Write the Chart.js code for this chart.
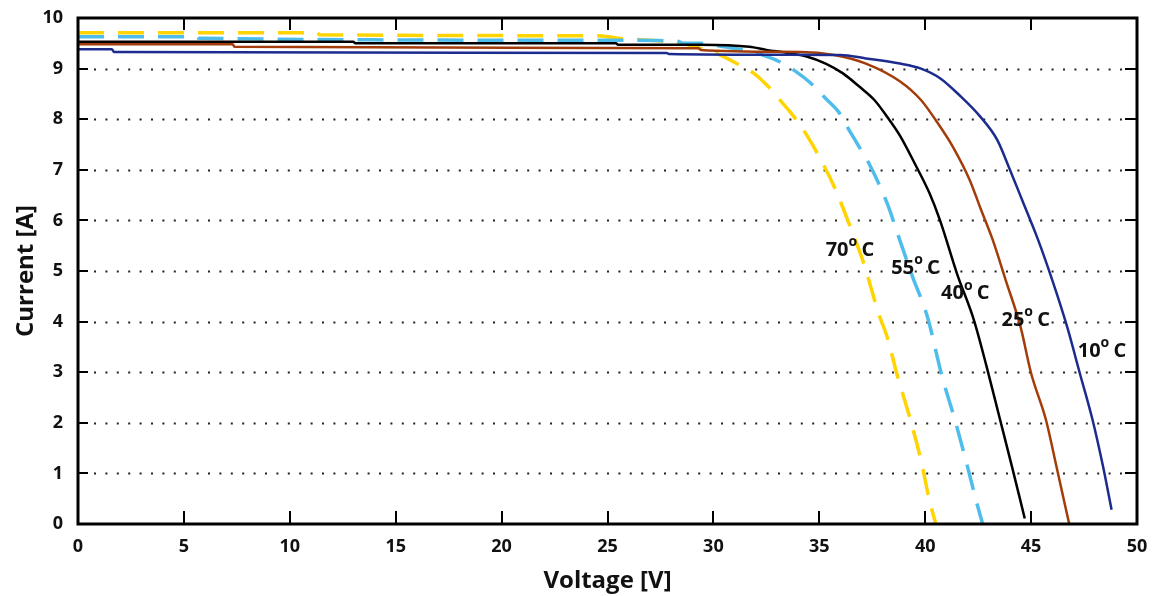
<!DOCTYPE html>
<html>
<head>
<meta charset="utf-8">
<script src="https://cdn.jsdelivr.net/npm/chart.js@4/dist/chart.umd.min.js"></script>
<style>
  html, body { margin: 0; padding: 0; background: #fff; }
  #wrap { width: 1160px; height: 596px; }
</style>
</head>
<body>
<div id="wrap"><canvas id="myChart" width="1160" height="596"></canvas></div>
<script>
// I-V curves at different cell temperatures
var temps = ["10", "25", "40", "55", "70"];

var v10 = [0, 1.6, 1.7, 27.8, 27.9, 36.0, 37.2, 38.8, 39.8, 40.7, 41.6, 42.6, 43.4, 44.0, 44.6, 45.3, 46.0, 46.7, 47.3, 47.9, 48.4, 48.8];
var i10 = [9.38, 9.38, 9.33, 9.31, 9.29, 9.27, 9.20, 9.10, 9.00, 8.81, 8.48, 8.05, 7.59, 7.00, 6.38, 5.65, 4.82, 3.90, 2.98, 2.06, 1.13, 0.28];

var v25 = [0, 7.3, 7.4, 29.3, 29.4, 34.1, 35.7, 37.2, 38.8, 39.8, 40.5, 41.3, 42.1, 42.6, 43.2, 43.8, 44.5, 45.0, 45.7, 46.2, 46.8];
var i25 = [9.48, 9.48, 9.43, 9.40, 9.37, 9.33, 9.27, 9.10, 8.75, 8.38, 7.98, 7.46, 6.80, 6.25, 5.60, 4.82, 3.90, 2.98, 2.06, 1.13, 0];

var v40 = [0, 13.0, 13.1, 25.4, 25.5, 29.4, 31.7, 32.5, 33.5, 34.4, 35.3, 36.1, 36.9, 37.6, 38.2, 38.8, 39.5, 40.2, 40.7, 41.5, 42.3, 42.9, 43.5, 44.1, 44.7];
var i40 = [9.53, 9.53, 9.50, 9.50, 9.47, 9.47, 9.43, 9.37, 9.31, 9.24, 9.10, 8.91, 8.64, 8.38, 8.05, 7.68, 7.13, 6.54, 6.00, 4.95, 4.03, 3.11, 2.12, 1.13, 0.11];

var v55 = [0, 5.6, 5.7, 26.0, 28.3, 28.6, 29.4, 30.5, 31.4, 32.3, 33.1, 33.9, 34.6, 35.3, 35.9, 36.4, 36.9, 37.4, 38.2, 38.8, 39.4, 40.1, 40.8, 41.4, 42.0, 42.4, 42.7];
var i55 = [9.63, 9.63, 9.60, 9.56, 9.54, 9.50, 9.50, 9.43, 9.37, 9.27, 9.14, 8.94, 8.71, 8.41, 8.15, 7.79, 7.44, 7.08, 6.34, 5.61, 4.89, 4.10, 2.91, 2.06, 1.13, 0.47, 0.02];

var v70 = [0, 11.3, 11.4, 24.5, 25.5, 27.0, 28.5, 29.4, 30.3, 31.1, 31.9, 32.6, 33.2, 33.8, 34.4, 34.9, 35.7, 36.4, 37.1, 37.8, 38.2, 38.7, 39.3, 39.8, 40.2, 40.5];
var i70 = [9.71, 9.71, 9.67, 9.65, 9.60, 9.56, 9.50, 9.40, 9.27, 9.10, 8.91, 8.64, 8.35, 8.05, 7.69, 7.33, 6.67, 5.94, 5.15, 4.16, 3.70, 2.91, 2.06, 1.26, 0.47, 0];

// where the temperature labels sit (voltage at left edge, current at middle)
var labelV = [47.2, 43.6, 40.75, 38.4, 35.3];
var labelI = [3.42, 4.03, 4.55, 5.06, 5.41];

var xTicks = [0, 5, 10, 15, 20, 25, 30, 35, 40, 45, 50];
var yTicks = [0, 1, 2, 3, 4, 5, 6, 7, 8, 9, 10];

function pts(v, c) {
  return v.map(function (x, k) { return { x: x, y: c[k] }; });
}

var FONT = "'Open Sans', 'Noto Sans', sans-serif";

// frame, inward ticks, dotted grid and curve labels
var framePlugin = {
  id: "frame",
  beforeDatasetsDraw: function (chart) {
    var ctx = chart.ctx, a = chart.chartArea;
    var ys = chart.scales.y;
    ctx.save();
    ctx.strokeStyle = "#222";
    ctx.lineWidth = 2;
    ctx.setLineDash([2, 9.4]);
    yTicks.forEach(function (t) {
      if (t === 0 || t === 10) return;
      var y = Math.round(ys.getPixelForValue(t)) + 0.5;
      ctx.beginPath();
      ctx.moveTo(a.left + 16, y);
      ctx.lineTo(a.right - 12, y);
      ctx.stroke();
    });
    ctx.restore();
  },
  afterDatasetsDraw: function (chart) {
    var ctx = chart.ctx, a = chart.chartArea;
    var xs = chart.scales.x, ys = chart.scales.y;
    ctx.save();
    ctx.strokeStyle = "#000";
    ctx.lineWidth = 2;
    xTicks.forEach(function (t) {
      var x = Math.round(xs.getPixelForValue(t));
      ctx.beginPath();
      ctx.moveTo(x, a.bottom); ctx.lineTo(x, a.bottom - 13);
      ctx.moveTo(x, a.top); ctx.lineTo(x, a.top + 12);
      ctx.stroke();
    });
    yTicks.forEach(function (t) {
      var y = Math.round(ys.getPixelForValue(t));
      ctx.beginPath();
      ctx.moveTo(a.left, y); ctx.lineTo(a.left + 10, y);
      ctx.moveTo(a.right, y); ctx.lineTo(a.right - 12, y);
      ctx.stroke();
    });
    ctx.lineWidth = 3;
    ctx.strokeRect(a.left, a.top, a.right - a.left, a.bottom - a.top);

    ctx.fillStyle = "#111";
    ctx.textBaseline = "middle";
    ctx.textAlign = "left";
    temps.forEach(function (t, k) {
      var x = xs.getPixelForValue(labelV[k]);
      var y = ys.getPixelForValue(labelI[k]);
      ctx.font = "bold 20px " + FONT;
      ctx.fillText(t, x, y);
      var w = ctx.measureText(t).width;
      ctx.font = "bold 14px " + FONT;
      ctx.fillText("o", x + w, y - 8);
      var w2 = ctx.measureText("o").width;
      ctx.font = "bold 20px " + FONT;
      ctx.fillText(" C", x + w + w2 - 1, y);
    });
    ctx.restore();
  }
};

document.addEventListener("DOMContentLoaded", function () {
  var ctx = document.getElementById("myChart").getContext("2d");
  var myChart = new Chart(ctx, {
    type: "scatter",
    data: {
      datasets: [
        { label: "10 C", data: pts(v10, i10), borderColor: "#1c2b8e", borderWidth: 2.5 },
        { label: "25 C", data: pts(v25, i25), borderColor: "#a23d0b", borderWidth: 2.5 },
        { label: "40 C", data: pts(v40, i40), borderColor: "#000000", borderWidth: 2.5 },
        { label: "55 C", data: pts(v55, i55), borderColor: "#4fbdec", borderWidth: 3.5, borderDash: [26, 14] },
        { label: "70 C", data: pts(v70, i70), borderColor: "#ffd400", borderWidth: 3.5, borderDash: [26, 14] }
      ].map(function (d) {
        d.showLine = true;
        d.pointRadius = 0;
        d.pointHoverRadius = 0;
        d.cubicInterpolationMode = "monotone";
        d.fill = false;
        return d;
      })
    },
    options: {
      responsive: false,
      animation: false,
      layout: { padding: { top: 18, right: 23, left: 0, bottom: 0 } },
      plugins: { legend: { display: false }, tooltip: { enabled: false } },
      scales: {
        x: {
          type: "linear",
          min: 0,
          max: 50,
          afterFit: function (s) { s.height = 72; },
          afterBuildTicks: function (s) { s.ticks = xTicks.map(function (v) { return { value: v }; }); },
          grid: { display: false },
          border: { display: false },
          ticks: { padding: 4, color: "#111", font: { family: FONT, size: 18, weight: "bold" }, maxRotation: 0 },
          title: { display: true, text: "Voltage [V]", color: "#111", padding: { top: 0, bottom: 0 }, font: { family: FONT, size: 24, weight: "bold" } }
        },
        y: {
          type: "linear",
          min: 0,
          max: 10,
          afterFit: function (s) { s.width = 78; },
          afterBuildTicks: function (s) { s.ticks = yTicks.map(function (v) { return { value: v }; }); },
          grid: { display: false },
          border: { display: false },
          ticks: { padding: 7, color: "#111", font: { family: FONT, size: 18, weight: "bold" } },
          title: { display: true, text: "Current [A]", color: "#111", padding: { top: 12, bottom: 12 }, font: { family: FONT, size: 24, weight: "bold" } }
        }
      }
    },
    plugins: [framePlugin]
  });
});
</script>
</body>
</html>
